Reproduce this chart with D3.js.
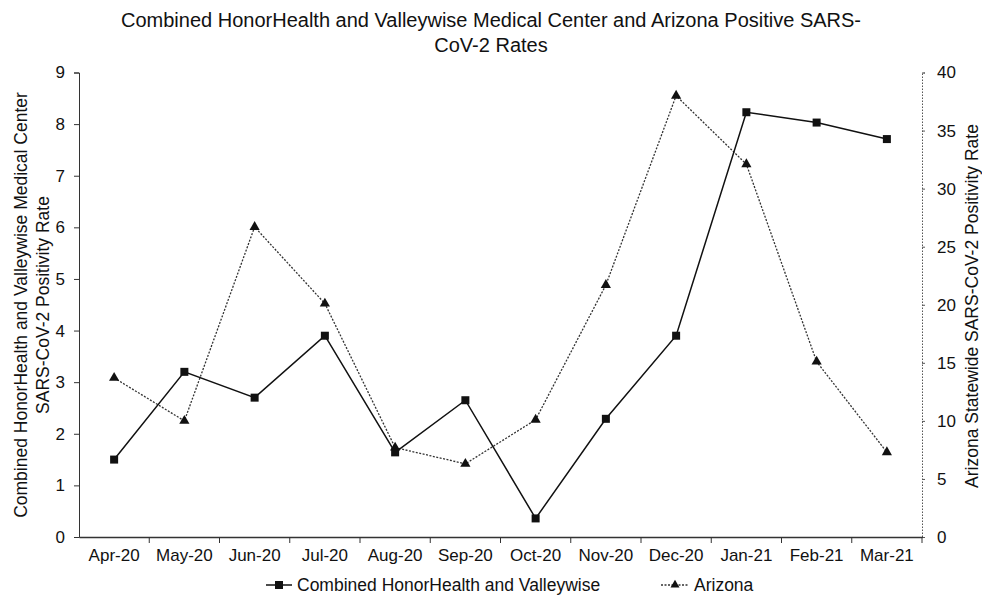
<!DOCTYPE html>
<html><head><meta charset="utf-8">
<script src="https://cdn.jsdelivr.net/npm/d3@7"></script>
<style>body{margin:0;background:#fff}svg{display:block}text{font-family:"Liberation Sans",Arial,sans-serif;fill:#111}</style>
</head><body>
<script>
const months = ["Apr-20","May-20","Jun-20","Jul-20","Aug-20","Sep-20","Oct-20","Nov-20","Dec-20","Jan-21","Feb-21","Mar-21"];
const combined = [1.5,3.2,2.7,3.9,1.64,2.65,0.36,2.29,3.9,8.23,8.03,7.71];
const arizona = [13.7,10.0,26.7,20.1,7.7,6.3,10.1,21.7,38.0,32.1,15.1,7.3];
const leftTicks = [0,1,2,3,4,5,6,7,8,9];
const rightTicks = [0,5,10,15,20,25,30,35,40];
const titleLines = ["Combined HonorHealth and Valleywise Medical Center and Arizona Positive SARS-","CoV-2 Rates"];
const leftLabel = ["Combined HonorHealth and Valleywise Medical Center","SARS-CoV-2 Positivity Rate"];
const rightLabel = "Arizona Statewide SARS-CoV-2 Positivity Rate";
const legendNames = ["Combined HonorHealth and Valleywise","Arizona"];

const W=982,H=598;
const svg=d3.select("body").append("svg").attr("width",W).attr("height",H);
const L=79,R=922,T=72.5,B=537;
const x=d3.scaleBand().domain(months).range([L,R]);
const yL=d3.scaleLinear().domain([0,9]).range([B,T]);
const yR=d3.scaleLinear().domain([0,40]).range([B,T]);

// title
svg.append("g").selectAll("text").data(titleLines).join("text")
 .attr("x",491).attr("y",(d,i)=>27+i*25).attr("text-anchor","middle").attr("font-size",20).text(d=>d);

// left axis
const gl=svg.append("g").attr("transform",`translate(${L},0)`)
 .call(d3.axisLeft(yL).tickValues(leftTicks).tickSize(5).tickPadding(9));
gl.selectAll("text").attr("font-size",17).style("font-family","Liberation Sans, Arial");
gl.selectAll("line,path").attr("stroke","#333");
// right axis
const gr=svg.append("g").attr("transform",`translate(${R},0)`)
 .call(d3.axisRight(yR).tickValues(rightTicks).tickSize(3).tickPadding(12));
gr.selectAll("text").attr("font-size",17).style("font-family","Liberation Sans, Arial");
gr.select("path").attr("stroke","#555").attr("stroke-dasharray","1.5,1.5");
gr.selectAll("line").attr("stroke","#555");
// bottom axis
const gb=svg.append("g").attr("transform",`translate(0,${B})`)
 .call(d3.axisBottom(x).tickSize(0).tickPadding(12));
gb.selectAll("text").attr("font-size",17).style("font-family","Liberation Sans, Arial");
gb.select("path").attr("stroke","#333").attr("stroke-width",1.5);
// boundary ticks
gb.selectAll("line.bt").data(months).join("line").attr("class","bt")
 .attr("x1",d=>x(d)+x.bandwidth()).attr("x2",d=>x(d)+x.bandwidth()).attr("y1",0).attr("y2",6).attr("stroke","#333");

// axis labels
svg.append("text").attr("transform",`translate(0,305) rotate(-90)`).attr("text-anchor","middle")
 .selectAll("tspan").data(leftLabel).join("tspan").attr("x",0).attr("y",(d,i)=>27+i*22).attr("font-size",17.5).text(d=>d);
svg.append("text").attr("transform",`translate(978,306) rotate(-90)`).attr("text-anchor","middle")
 .attr("font-size",17.5).text(rightLabel);

// lines
const cx=d=>x(d)+x.bandwidth()/2;
const lineC=d3.line().x((d,i)=>cx(months[i])).y(d=>yL(d));
const lineA=d3.line().x((d,i)=>cx(months[i])).y(d=>yR(d));
svg.append("path").datum(arizona).attr("d",lineA).attr("fill","none").attr("stroke","#333").attr("stroke-width",1.3).attr("stroke-dasharray","2,1.5");
svg.append("path").datum(combined).attr("d",lineC).attr("fill","none").attr("stroke","#111").attr("stroke-width",1.5);
const tri=d3.symbol().type(d3.symbolTriangle).size(45);
svg.append("g").selectAll("path").data(arizona).join("path")
 .attr("transform",(d,i)=>`translate(${cx(months[i])},${yR(d)})`).attr("d",tri).attr("fill","#111");
svg.append("g").selectAll("rect").data(combined).join("rect")
 .attr("x",(d,i)=>cx(months[i])-4).attr("y",d=>yL(d)-4).attr("width",8).attr("height",8).attr("fill","#111");

// legend
const lg=svg.append("g");
lg.append("line").attr("x1",266).attr("x2",292).attr("y1",585).attr("y2",585).attr("stroke","#111").attr("stroke-width",1.5);
lg.append("rect").attr("x",275).attr("y",581).attr("width",8).attr("height",8).attr("fill","#111");
lg.append("text").attr("x",297).attr("y",591).attr("font-size",17.5).text(legendNames[0]);
lg.append("line").attr("x1",661).attr("x2",689).attr("y1",585).attr("y2",585).attr("stroke","#333").attr("stroke-width",1.3).attr("stroke-dasharray","2,1.5");
lg.append("path").attr("transform","translate(675,585)").attr("d",d3.symbol().type(d3.symbolTriangle).size(35)).attr("fill","#111");
lg.append("text").attr("x",694).attr("y",591).attr("font-size",17.5).text(legendNames[1]);
</script>
</body></html>
